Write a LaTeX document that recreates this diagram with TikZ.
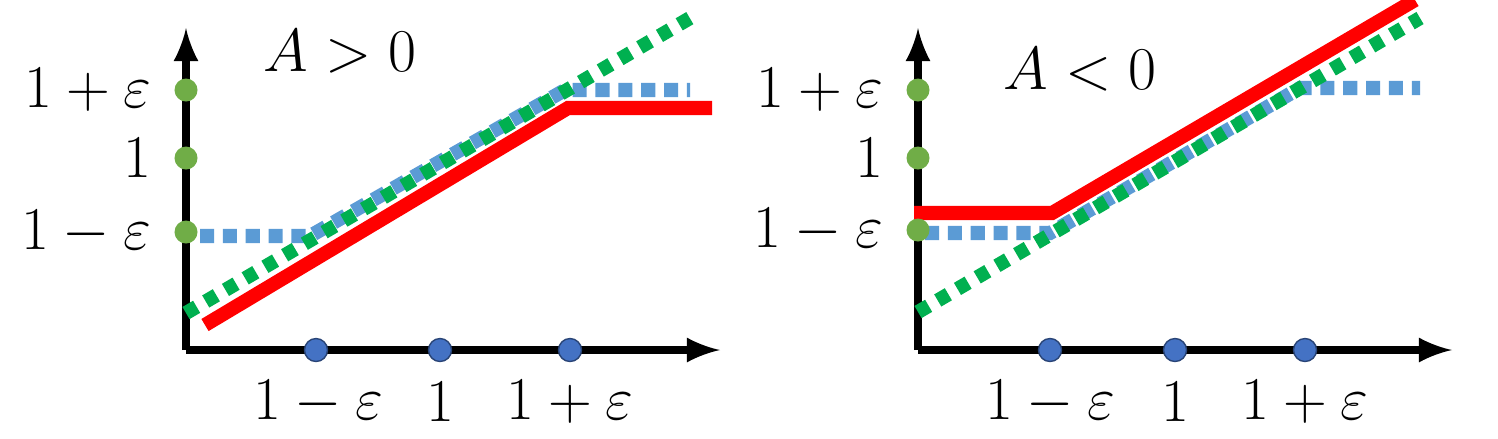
\documentclass[tikz,border=0pt]{standalone}
\usepackage{amsmath}
\usepackage[dvipsnames]{xcolor}
\usetikzlibrary{calc,positioning}
\definecolor{dotgreen}{RGB}{112,173,71}
\definecolor{dotblue}{RGB}{68,114,196}
\definecolor{lineblue}{RGB}{91,155,213}
\definecolor{linegreen}{RGB}{0,176,80}
\def\myFont{\fontsize{19}{22}\selectfont}

\begin{document}
\begin{tikzpicture}[x=0.01cm,y=-0.01cm]
      \tikzstyle{every node} = [font=\myFont]
      \tikzstyle{axis} = [line width=2.2pt, -latex]
      \tikzstyle{ydot} = [circle, fill=dotgreen, inner sep=0pt, minimum size=0.23cm]
      \tikzstyle{xdot} = [circle, fill=dotblue, draw=dotblue!60!black, inner sep=0pt, minimum size=0.23cm]
      \tikzstyle{redline} = [red, line width=4pt]
      \tikzstyle{blueline} = [lineblue, line width=4pt, dash pattern=on 4pt off 2.5pt]
      \tikzstyle{greenline} = [linegreen, line width=4pt, dash pattern=on 3.5pt off 3pt]
      \useasboundingbox (0,0) rectangle (1498,438);
      % Left panel
      \coordinate (Lo) at (186,350);
      \coordinate (Ly) at (186,28);
      \coordinate (Lx) at (720,350);
      \draw[axis] (Lo) -- (Ly);
      \draw[axis] (Lo) -- (Lx);
      \coordinate (Lb1) at (200,236);
      \coordinate (Lb2) at (310,236);
      \coordinate (Lb3) at (565,90);
      \coordinate (Lb4) at (690,90);
      \draw[blueline] (Lb1) -- (Lb2) -- (Lb3) -- (Lb4);
      \coordinate (Lg1) at (186,313);
      \coordinate (Lg2) at (690,18);
      \draw[greenline] (Lg1) -- (Lg2);
      \coordinate (Lr1) at (205,325);
      \coordinate (Lr2) at (568,108);
      \coordinate (Lr3) at (712,108);
      \draw[redline] (Lr1) -- (Lr2) -- (Lr3);
      \node[ydot](Lyhi) at (186,90){};
      \node[ydot](Lymid) at (186,158){};
      \node[ydot](Lylo) at (186,232){};
      \node[xdot](Lxlo) at (316,350){};
      \node[xdot](Lxmid) at (440,350){};
      \node[xdot](Lxhi) at (570,350){};
      \node[left=0.1cm of Lyhi](LyhiLabel){$1+\varepsilon$};
      \node[left=0.1cm of Lymid](LymidLabel){$1$};
      \node[left=0.1cm of Lylo](LyloLabel){$1-\varepsilon$};
      \node(LxloLabel) at (318,402){$1-\varepsilon$};
      \node(LxmidLabel) at (440,402){$1$};
      \node(LxhiLabel) at (570,402){$1+\varepsilon$};
      \node(Ltitle) at (340,52){$A>0$};
      % Right panel
      \coordinate (Ro) at (918,350);
      \coordinate (Ry) at (918,28);
      \coordinate (Rx) at (1452,350);
      \draw[axis] (Ro) -- (Ry);
      \draw[axis] (Ro) -- (Rx);
      \coordinate (Rb1) at (925,233);
      \coordinate (Rb2) at (1050,233);
      \coordinate (Rb3) at (1300,88);
      \coordinate (Rb4) at (1420,88);
      \draw[blueline] (Rb1) -- (Rb2) -- (Rb3) -- (Rb4);
      \coordinate (Rg1) at (918,312);
      \coordinate (Rg2) at (1420,18);
      \draw[greenline] (Rg1) -- (Rg2);
      \coordinate (Rr1) at (914,213);
      \coordinate (Rr2) at (1052,213);
      \coordinate (Rr3) at (1415,0);
      \draw[redline] (Rr1) -- (Rr2) -- (Rr3);
      \node[ydot](Ryhi) at (918,90){};
      \node[ydot](Rymid) at (918,158){};
      \node[ydot](Rylo) at (918,230){};
      \node[xdot](Rxlo) at (1050,350){};
      \node[xdot](Rxmid) at (1175,350){};
      \node[xdot](Rxhi) at (1305,350){};
      \node[left=0.1cm of Ryhi](RyhiLabel){$1+\varepsilon$};
      \node[left=0.1cm of Rymid](RymidLabel){$1$};
      \node[left=0.1cm of Rylo](RyloLabel){$1-\varepsilon$};
      \node(RxloLabel) at (1050,402){$1-\varepsilon$};
      \node(RxmidLabel) at (1175,402){$1$};
      \node(RxhiLabel) at (1305,402){$1+\varepsilon$};
      \node(Rtitle) at (1080,70){$A<0$};
\end{tikzpicture}
\end{document}
